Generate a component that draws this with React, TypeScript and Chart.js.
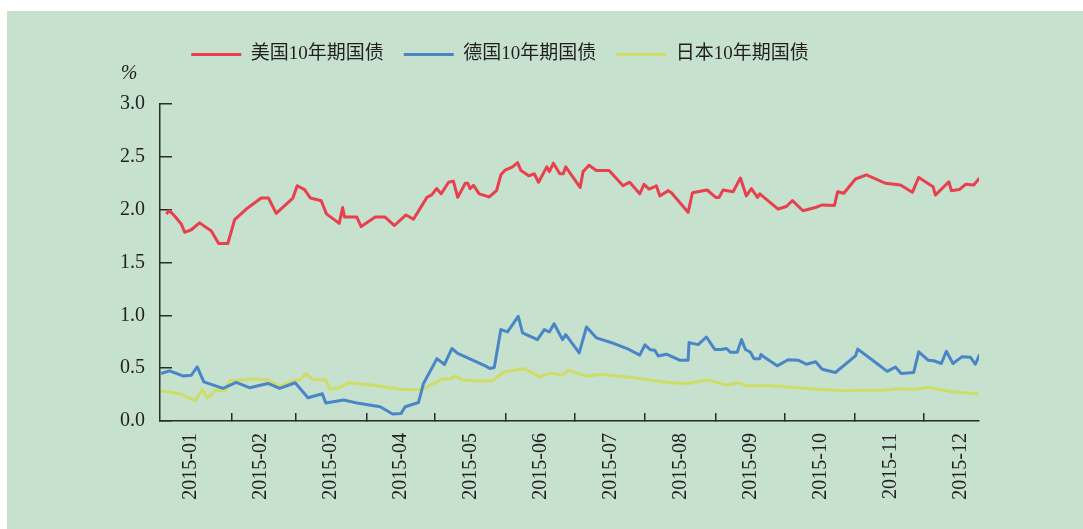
import React, { useEffect, useRef } from 'react';
import { Chart, registerables } from 'chart.js';

Chart.register(...registerables);

// ---- data ----
const monthLabels = ['2015-01', '2015-02', '2015-03', '2015-04', '2015-05', '2015-06', '2015-07', '2015-08', '2015-09', '2015-10', '2015-11', '2015-12'];
// day-of-year (0 = Jan 1) of month boundaries that carry tick marks
const monthStartDays = [31, 59, 90, 120, 151, 181, 212, 243, 273, 304, 334];

const seriesLabels = ['美国10年期国债', '德国10年期国债', '日本10年期国债'];

const usDays = [2.2, 3.7, 5.9, 8.8, 10.3, 13.2, 16.8, 21.9, 25.2, 29.2, 32.2, 37.3, 43.8, 47.0, 50.4, 57.7, 59.6, 62.8, 65.4, 70.1, 72.4, 78.0, 79.5, 80.3, 85.7, 87.6, 93.8, 98.1, 102.2, 107.2, 110.5, 116.4, 118.5, 120.7, 122.6, 125.9, 128.0, 129.9, 133.2, 134.3, 135.3, 136.8, 139.3, 142.2, 143.7, 146.9, 148.8, 150.7, 153.9, 156.1, 157.6, 161.0, 163.4, 165.3, 168.9, 170.0, 171.8, 174.6, 176.1, 177.2, 183.5, 184.8, 187.4, 190.6, 196.2, 202.3, 205.2, 209.6, 211.5, 213.7, 216.9, 218.4, 222.1, 223.5, 230.8, 232.7, 239.1, 242.9, 244.4, 246.1, 250.5, 253.7, 256.3, 258.5, 261.2, 262.2, 270.2, 273.8, 276.5, 281.1, 286.5, 289.5, 294.9, 296.3, 299.0, 304.1, 308.9, 317.2, 323.8, 329.0, 331.8, 338.1, 339.1, 345.0, 346.1, 349.6, 352.3, 355.9, 358.5];
const usYields = [1.96, 1.99, 1.94, 1.865, 1.786, 1.81, 1.875, 1.80, 1.68, 1.68, 1.905, 2.006, 2.11, 2.11, 1.965, 2.11, 2.226, 2.19, 2.11, 2.085, 1.96, 1.87, 2.02, 1.93, 1.93, 1.84, 1.93, 1.93, 1.85, 1.95, 1.91, 2.116, 2.14, 2.2, 2.15, 2.26, 2.27, 2.116, 2.25, 2.25, 2.2, 2.23, 2.15, 2.13, 2.12, 2.18, 2.33, 2.375, 2.405, 2.446, 2.37, 2.32, 2.34, 2.26, 2.405, 2.36, 2.44, 2.34, 2.34, 2.405, 2.21, 2.36, 2.42, 2.37, 2.37, 2.226, 2.26, 2.15, 2.24, 2.195, 2.226, 2.13, 2.18, 2.16, 1.975, 2.16, 2.186, 2.116, 2.116, 2.186, 2.17, 2.30, 2.13, 2.2, 2.116, 2.15, 2.006, 2.03, 2.085, 1.99, 2.02, 2.045, 2.04, 2.17, 2.155, 2.29, 2.33, 2.25, 2.233, 2.164, 2.305, 2.217, 2.138, 2.264, 2.18, 2.19, 2.24, 2.233, 2.30];

const deDays = [0, 3.7, 9.5, 13.2, 15.8, 18.7, 27.1, 32.9, 38.7, 46.8, 51.9, 58.7, 64.3, 70.6, 72.1, 79.9, 86.5, 95.9, 101.4, 105.1, 106.9, 112.7, 114.9, 120.8, 124.1, 127.3, 129.9, 142.2, 144.0, 145.9, 148.8, 151.7, 156.4, 158.3, 164.8, 167.8, 170.0, 172.1, 175.8, 177.2, 183.1, 186.3, 190.6, 198.4, 204.9, 209.6, 211.9, 214.2, 216.2, 217.7, 221.3, 227.1, 230.8, 231.2, 235.2, 238.8, 242.5, 245.4, 247.6, 249.4, 252.3, 254.2, 255.9, 258.1, 259.6, 262.2, 262.7, 264.4, 269.8, 274.6, 279.0, 282.6, 286.7, 289.5, 295.3, 304.1, 305.1, 312.9, 318.0, 321.6, 324.1, 329.6, 331.8, 335.9, 338.4, 341.7, 343.9, 346.8, 350.7, 354.4, 356.6, 358.5];
const deYields = [0.45, 0.475, 0.427, 0.433, 0.512, 0.371, 0.308, 0.365, 0.315, 0.355, 0.308, 0.362, 0.22, 0.258, 0.17, 0.198, 0.167, 0.135, 0.066, 0.072, 0.135, 0.175, 0.355, 0.59, 0.535, 0.686, 0.64, 0.519, 0.497, 0.506, 0.865, 0.843, 0.99, 0.834, 0.77, 0.865, 0.843, 0.92, 0.77, 0.817, 0.645, 0.89, 0.787, 0.733, 0.677, 0.623, 0.72, 0.675, 0.67, 0.616, 0.632, 0.576, 0.576, 0.742, 0.723, 0.795, 0.677, 0.677, 0.686, 0.65, 0.65, 0.77, 0.677, 0.65, 0.59, 0.59, 0.63, 0.60, 0.522, 0.58, 0.576, 0.537, 0.56, 0.49, 0.459, 0.616, 0.68, 0.553, 0.47, 0.51, 0.45, 0.459, 0.654, 0.576, 0.57, 0.544, 0.66, 0.544, 0.607, 0.604, 0.537, 0.63];

const jpDays = [0, 4.9, 9.2, 14.8, 17.9, 20.2, 24.1, 28.1, 30.0, 36.5, 40.2, 46.8, 51.9, 58.7, 60.6, 63.5, 66.4, 71.9, 74.1, 78.4, 82.1, 92.3, 105.4, 114.2, 119.3, 123.2, 126.6, 129.1, 131.7, 137.5, 145.1, 150.2, 155.3, 159.0, 165.8, 170.7, 175.8, 178.4, 186.3, 192.6, 203.5, 214.0, 222.8, 230.8, 239.5, 247.3, 253.1, 255.6, 265.1, 276.8, 286.5, 299.0, 315.7, 323.0, 330.3, 335.4, 346.4, 358.1];
const jpYields = [0.286, 0.27, 0.25, 0.19, 0.298, 0.22, 0.292, 0.283, 0.38, 0.387, 0.40, 0.387, 0.33, 0.387, 0.387, 0.45, 0.39, 0.39, 0.30, 0.316, 0.362, 0.34, 0.298, 0.298, 0.355, 0.396, 0.40, 0.424, 0.39, 0.38, 0.38, 0.465, 0.48, 0.497, 0.418, 0.455, 0.434, 0.48, 0.424, 0.443, 0.418, 0.387, 0.362, 0.355, 0.39, 0.34, 0.362, 0.336, 0.336, 0.316, 0.303, 0.286, 0.292, 0.305, 0.298, 0.32, 0.277, 0.255];

const yUnit = '%';

// ---- styles ----
const BG = '#c6e1cd';
const TEXT = '#231f20';
const AXIS = '#2b2b2b';
const RED = '#e8404f';
const BLUE = '#4a85c8';
const YELLOW = '#cfdc66';
const FONT = "'Liberation Serif', 'Noto Sans CJK SC', serif";

const toPoints = (xs: number[], ys: number[]) => xs.map((x, i) => ({ x, y: ys[i] }));

export default function App() {
  const canvasRef = useRef<HTMLCanvasElement>(null);

  useEffect(() => {
    document.body.style.margin = '0';
    const canvas = canvasRef.current;
    if (!canvas) return;

    const legendSpacer = {
      id: 'legendSpacer',
      beforeInit(chart: any) {
        const origFit = chart.legend.fit;
        chart.legend.fit = function () {
          origFit.call(this);
          this.height += 30;
        };
      },
    };

    const unitLabel = {
      id: 'unitLabel',
      afterDraw(chart: any) {
        const { ctx, chartArea } = chart;
        ctx.save();
        ctx.font = "italic 20px 'Liberation Serif', serif";
        ctx.fillStyle = TEXT;
        ctx.textAlign = 'center';
        ctx.textBaseline = 'middle';
        ctx.fillText(yUnit, chartArea.left - 31, chartArea.top - 30);
        ctx.restore();
      },
    };

    const chart = new Chart(canvas, {
      type: 'line',
      data: {
        datasets: [
          { label: seriesLabels[0], data: toPoints(usDays, usYields), borderColor: RED, backgroundColor: RED },
          { label: seriesLabels[1], data: toPoints(deDays, deYields), borderColor: BLUE, backgroundColor: BLUE },
          { label: seriesLabels[2], data: toPoints(jpDays, jpYields), borderColor: YELLOW, backgroundColor: YELLOW },
        ],
      },
      options: {
        responsive: false,
        animation: false,
        devicePixelRatio: 1,
        layout: { padding: { top: 14, right: 19, bottom: 28, left: 0 } },
        font: { family: FONT },
        elements: {
          point: { radius: 0, hoverRadius: 0, borderWidth: 3 },
          line: { tension: 0, borderWidth: 3, borderJoinStyle: 'round' },
        },
        plugins: {
          tooltip: { enabled: false },
          legend: {
            position: 'top',
            align: 'center',
            labels: {
              usePointStyle: true,
              pointStyle: 'line',
              pointStyleWidth: 50,
              padding: 20,
              color: TEXT,
              font: { size: 19, family: FONT },
            },
          },
        },
        scales: {
          x: {
            type: 'linear',
            position: 'bottom',
            weight: 0,
            min: -0.5,
            max: 358.2,
            afterBuildTicks: (s: any) => {
              s.ticks = monthStartDays.map((v) => ({ value: v }));
            },
            afterFit: (s: any) => {
              s.height = 0;
            },
            grid: { drawOnChartArea: false, drawTicks: true, tickLength: -8, color: AXIS, lineWidth: 1.5 },
            border: { color: AXIS, width: 1.5 },
            ticks: { display: false },
          },
          xl: {
            type: 'linear',
            position: 'bottom',
            weight: 1,
            min: -0.436,
            max: 11.264,
            afterBuildTicks: (s: any) => {
              s.ticks = monthLabels.map((_, i) => ({ value: i }));
            },
            afterFit: (s: any) => {
              s.height = 80;
            },
            grid: { display: false, drawTicks: false },
            border: { display: false },
            ticks: {
              minRotation: 90,
              maxRotation: 90,
              autoSkip: false,
              padding: 12,
              color: TEXT,
              font: { size: 20, family: FONT },
              callback: (_v: any, i: number) => monthLabels[i],
            },
          },
          y: {
            type: 'linear',
            min: 0,
            max: 3,
            afterFit: (s: any) => {
              s.width = 139;
            },
            grid: { drawOnChartArea: false, tickLength: -12, color: AXIS, lineWidth: 1.5 },
            border: { color: AXIS, width: 1.5 },
            ticks: {
              stepSize: 0.5,
              padding: 27,
              color: TEXT,
              font: { size: 20, family: FONT },
              callback: (v: any) => Number(v).toFixed(1),
            },
          },
        },
      } as any,
      plugins: [legendSpacer, unitLabel],
    });

    return () => chart.destroy();
  }, []);

  return (
    <div style={{ position: 'absolute', left: 7, top: 11, width: 1076, height: 518, background: BG }}>
      <canvas
        ref={canvasRef}
        width={977}
        height={518}
        style={{ position: 'absolute', left: 14, top: 0, width: 977, height: 518 }}
      />
    </div>
  );
}
